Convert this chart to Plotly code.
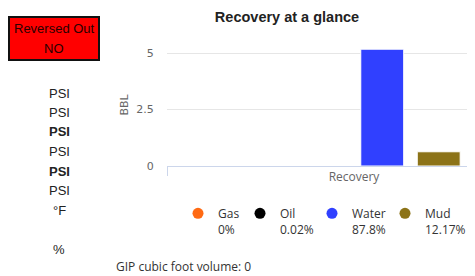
import plotly.graph_objects as go

categories = ["Recovery"]
series_names = ["Gas", "Oil", "Water", "Mud"]
series_values = [0.0, 0.001, 5.17, 0.63]
series_pcts = ["0%", "0.02%", "87.8%", "12.17%"]
series_colors = ["#ff6a13", "#000000", "#3040ff", "#8c7318"]
y_ticks = [0, 2.5, 5]
left_units = ["PSI", "PSI", "PSI", "PSI", "PSI", "PSI", "°F", "%"]
left_bold = [False, False, True, False, True, False, False, False]
left_y = [93, 112, 131, 151, 171, 190, 210, 250]

legend_item_widths = [17, 27, 28, 40]

OFF = 8  # page body margin
W, H = 475 - OFF, 276 - OFF
L = 167 - OFF
T = 44 - OFF
B = H - (166 - OFF)
R = 0
PW, PH = W - L - R, H - T - B

def px(x):
    return (x - OFF - L) / PW

def py(y):
    return (H - B - (y - OFF)) / PH

fig = go.Figure()
for name, val, col in zip(series_names, series_values, series_colors):
    fig.add_trace(go.Bar(
        x=categories, y=[val], name=name, marker_color=col,
        marker_line_color="white", marker_line_width=1, showlegend=False,
    ))
for name, pct, col, lw in zip(series_names, series_pcts, series_colors, legend_item_widths):
    fig.add_trace(go.Scatter(
        x=[None], y=[None], mode="markers", name=f"{name}<br>{pct}",
        marker=dict(color=col, size=11, symbol="circle"), legendwidth=lw,
    ))

def note(text, x, y, size=13, family="Liberation Sans", color="#222222", xanchor="center"):
    return dict(text=text, x=px(x), y=py(y), xref="paper", yref="paper",
                xanchor=xanchor, yanchor="middle", showarrow=False,
                font=dict(family=family, size=size, color=color))

ann = [note("Reversed Out", 54, 29, color="#2a0000"), note("NO", 54, 48, color="#2a0000")]
for u, b, yy in zip(left_units, left_bold, left_y):
    ann.append(note(f"<b>{u}</b>" if b else u, 59, yy))
ann.append(note("GIP cubic foot volume: 0", 114, 266, size=12, family="Open Sans",
                color="#333333", xanchor="left"))

fig.update_layout(
    width=W, height=H,
    margin=dict(l=L, r=R, t=T, b=B, autoexpand=False),
    paper_bgcolor="white", plot_bgcolor="white",
    barmode="group", bargap=0.396, bargroupgap=0.24,
    title=dict(text="<b>Recovery at a glance</b>", x=px(287), xref="paper", xanchor="center",
               y=1 - (16.5 - OFF) / H, yanchor="middle",
               font=dict(family="Liberation Sans", size=14.5, color="#222222")),
    xaxis=dict(range=[-0.5, PW / 374 - 0.5], showgrid=False, showline=True,
               linecolor="#ccd6eb", linewidth=1, ticks="outside", tickson="boundaries",
               ticklen=9, tickcolor="#ccd6eb",
               tickfont=dict(family="Open Sans", size=12, color="#666666"), fixedrange=True),
    yaxis=dict(range=[0, 5.4], tickvals=y_ticks, ticktext=["0", "2.5", "5"],
               showgrid=True, gridcolor="#e6e6e6", zeroline=False, showline=False,
               ticks="outside", ticklen=10, tickcolor="rgba(0,0,0,0)",
               tickfont=dict(family="DejaVu Sans", size=11, color="#666666"),
               title=dict(text="BBL", font=dict(family="DejaVu Sans", size=11, color="#666666"),
                          standoff=5)),
    legend=dict(orientation="h", x=px(178), y=py(199), xanchor="left", yanchor="top",
                valign="top", font=dict(family="Open Sans", size=12, color="#333333"),
                itemclick=False, bgcolor="rgba(0,0,0,0)"),
    shapes=[dict(type="rect", xref="paper", yref="paper", x0=px(9), x1=px(99), y0=py(17), y1=py(60),
                 fillcolor="#ff0000", line=dict(color="#111111", width=2), layer="above")],
    annotations=ann,
)
fig.write_html("out.html", config={"displayModeBar": False})
